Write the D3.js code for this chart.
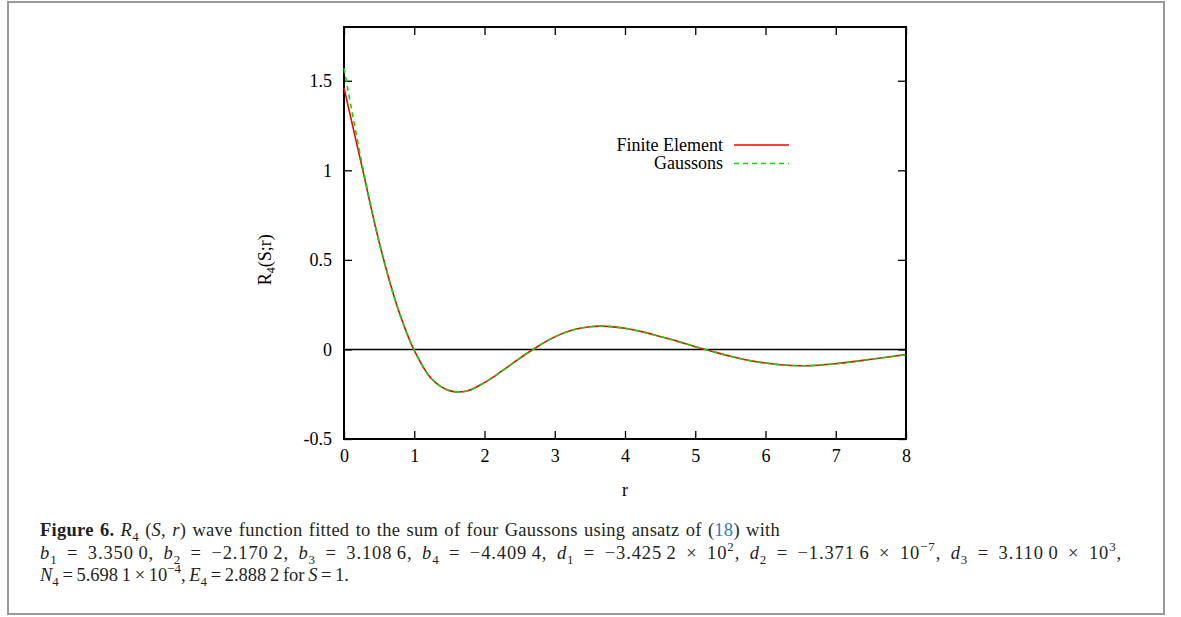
<!DOCTYPE html>
<html>
<head>
<meta charset="utf-8">
<script src="https://cdn.jsdelivr.net/npm/d3@7"></script>
<style>
  body { margin: 0; background: #fff; }
  svg { display: block; }
</style>
</head>
<body>
<div id="chart"></div>
<script>
// values
const rValues = [0, 0.25, 0.5, 0.75, 1, 1.25, 1.5, 1.75, 2, 2.25, 2.5, 2.75, 3, 3.25, 3.5, 3.75,
  4, 4.25, 4.5, 4.75, 5, 5.25, 5.5, 5.75, 6, 6.25, 6.5, 6.75, 7, 7.25, 7.5, 7.75, 8];
const finiteElement = [1.46, 1.03, 0.60, 0.25, -0.005, -0.165, -0.230, -0.232, -0.185, -0.12, -0.05, 0.015,
  0.07, 0.108, 0.127, 0.129, 0.118, 0.098, 0.072, 0.045, 0.015, -0.012, -0.038, -0.060, -0.076,
  -0.087, -0.091, -0.088, -0.080, -0.068, -0.055, -0.042, -0.029];
const gaussons = [1.57, 1.05, 0.60, 0.25, -0.005, -0.165, -0.230, -0.232, -0.185, -0.12, -0.05, 0.015,
  0.07, 0.108, 0.127, 0.129, 0.118, 0.098, 0.072, 0.045, 0.015, -0.012, -0.038, -0.060, -0.076,
  -0.087, -0.091, -0.088, -0.080, -0.068, -0.055, -0.042, -0.029];
const xTicks = [0, 1, 2, 3, 4, 5, 6, 7, 8];
const yTicks = [-0.5, 0, 0.5, 1, 1.5];
const seriesNames = ["Finite Element", "Gaussons"];

const width = 1181, height = 617;
const margin = {top: 27, right: 275, bottom: 178, left: 344};
const serif = "'Liberation Serif', 'DejaVu Serif', serif";

const svg = d3.select("#chart").append("svg")
  .attr("width", width)
  .attr("height", height);

// outer frame around figure + caption
svg.append("rect")
  .attr("x", 8).attr("y", 2)
  .attr("width", 1156).attr("height", 612)
  .attr("fill", "none")
  .attr("stroke", "#9a9a9a")
  .attr("stroke-width", 2);

const x = d3.scaleLinear().domain([0, 8]).range([margin.left, width - margin.right]);
const y = d3.scaleLinear().domain([-0.5, 1.8]).range([height - margin.bottom, margin.top]);

const tickFmt = d => String(d);

const styleAxis = g => {
  g.select(".domain").remove();
  g.selectAll(".tick line").attr("stroke", "#000").attr("stroke-width", 1.3);
  g.selectAll(".tick text").attr("font-family", serif).attr("font-size", 18).attr("fill", "#000");
};

// bottom & left axes, ticks pointing inward like gnuplot
svg.append("g")
  .attr("transform", `translate(0,${y(-0.5)})`)
  .call(d3.axisBottom(x).tickValues(xTicks).tickFormat(tickFmt).tickSize(-8).tickPadding(10))
  .call(styleAxis);

svg.append("g")
  .attr("transform", `translate(${x(0)},0)`)
  .call(d3.axisLeft(y).tickValues(yTicks).tickFormat(tickFmt).tickSize(-8).tickPadding(12))
  .call(styleAxis);

// mirror ticks on top & right
svg.append("g")
  .attr("transform", `translate(0,${y(1.8)})`)
  .call(d3.axisTop(x).tickValues(xTicks).tickFormat("").tickSize(-8))
  .call(styleAxis);

svg.append("g")
  .attr("transform", `translate(${x(8)},0)`)
  .call(d3.axisRight(y).tickValues(yTicks).tickFormat("").tickSize(-8))
  .call(styleAxis);

// zero axis
svg.append("line")
  .attr("x1", x(0)).attr("x2", x(8))
  .attr("y1", y(0)).attr("y2", y(0))
  .attr("stroke", "#000").attr("stroke-width", 1.5);

// plot border
svg.append("rect")
  .attr("x", x(0)).attr("y", y(1.8))
  .attr("width", x(8) - x(0)).attr("height", y(-0.5) - y(1.8))
  .attr("fill", "none").attr("stroke", "#000").attr("stroke-width", 2);

const line = d3.line()
  .curve(d3.curveCatmullRom)
  .x((d, i) => x(rValues[i]))
  .y(d => y(d));

const series = [
  {name: seriesNames[0], values: finiteElement, color: "#ff0000", dash: null},
  {name: seriesNames[1], values: gaussons, color: "#00e000", dash: "5,4"}
];

svg.append("g")
  .attr("fill", "none")
  .attr("stroke-width", 1.6)
  .selectAll("path")
  .data(series)
  .join("path")
    .attr("stroke", d => d.color)
    .attr("stroke-dasharray", d => d.dash)
    .attr("d", d => line(d.values));

// legend
const legend = svg.append("g");
series.forEach((s, i) => {
  const ly = 145 + i * 18.5;
  legend.append("text")
    .attr("x", 723).attr("y", ly + 5.5)
    .attr("text-anchor", "end")
    .attr("font-family", serif).attr("font-size", 18)
    .text(s.name);
  legend.append("line")
    .attr("x1", 734).attr("x2", 789)
    .attr("y1", ly).attr("y2", ly)
    .attr("stroke", s.color).attr("stroke-width", 1.6)
    .attr("stroke-dasharray", s.dash);
});

// axis titles
svg.append("text")
  .attr("x", (x(0) + x(8)) / 2).attr("y", 496)
  .attr("text-anchor", "middle")
  .attr("font-family", serif).attr("font-size", 18)
  .text("r");

const yl = svg.append("text")
  .attr("transform", `translate(271,${y(0.5)}) rotate(-90)`)
  .attr("text-anchor", "middle")
  .attr("font-family", serif).attr("font-size", 18);
yl.append("tspan").text("R");
yl.append("tspan").attr("font-size", 12).attr("dy", 4).text("4");
yl.append("tspan").attr("dy", -4).text("(S;r)");

// caption; digit groups use a thin space
const TS = "\u2009";
const capLines = [
  [
    {t: "Figure 6. ", b: true},
    {t: "R", i: true}, {t: "4", sub: true}, {t: " (", back: true}, {t: "S", i: true}, {t: ", "}, {t: "r", i: true},
    {t: ") wave function fitted to the sum of four Gaussons using ansatz of ("},
    {t: "18", c: "#2b7bb9"}, {t: ") with"}
  ],
  [
    {t: "b", i: true}, {t: "1", sub: true}, {t: " = 3.350" + TS + "0, ", back: true},
    {t: "b", i: true}, {t: "2", sub: true}, {t: " = −2.170" + TS + "2, ", back: true},
    {t: "b", i: true}, {t: "3", sub: true}, {t: " = 3.108" + TS + "6, ", back: true},
    {t: "b", i: true}, {t: "4", sub: true}, {t: " = −4.409" + TS + "4, ", back: true},
    {t: "d", i: true}, {t: "1", sub: true}, {t: " = −3.425" + TS + "2 × 10", back: true}, {t: "2", sup: true},
    {t: ", ", up: true},
    {t: "d", i: true}, {t: "2", sub: true}, {t: " = −1.371" + TS + "6 × 10", back: true}, {t: "−7", sup: true},
    {t: ", ", up: true},
    {t: "d", i: true}, {t: "3", sub: true}, {t: " = 3.110" + TS + "0 × 10", back: true}, {t: "3", sup: true},
    {t: ",", up: true}
  ],
  [
    {t: "N", i: true}, {t: "4", sub: true}, {t: " = 5.698" + TS + "1 × 10", back: true}, {t: "−4", sup: true},
    {t: ", ", up: true},
    {t: "E", i: true}, {t: "4", sub: true}, {t: " = 2.888" + TS + "2 for ", back: true},
    {t: "S", i: true}, {t: " = 1."}
  ]
];
const capY = [536, 559, 581];
const capWidth = [740, 1082, 290];

const fs = 18.5;
const cap = svg.append("g")
  .attr("font-family", serif)
  .attr("font-size", fs)
  .attr("fill", "#231f20");
const subSize = fs * 0.7, dsub = fs * 0.25, dsup = fs * 0.42;

capLines.forEach((parts, li) => {
  const t = cap.append("text").attr("x", 40).attr("y", capY[li]);
  parts.forEach(p => {
    const ts = t.append("tspan").text(p.t);
    if (p.i) ts.attr("font-style", "italic");
    if (p.b) ts.attr("font-weight", "bold");
    if (p.sub) ts.attr("font-size", subSize).attr("dy", dsub);
    if (p.sup) ts.attr("font-size", subSize).attr("dy", -dsup);
    if (p.back) ts.attr("dy", -dsub);
    if (p.up) ts.attr("dy", dsup);
    if (p.c) ts.attr("fill", p.c);
  });
  // justify: share the missing width between letters and word gaps
  const str = parts.map(p => p.t).join("");
  const natural = t.node().getComputedTextLength();
  const spaces = (str.match(/ /g) || []).length;
  const deficit = capWidth[li] - natural;
  if (deficit > 0) {
    t.attr("letter-spacing", 0.5 * deficit / str.length);
    t.attr("word-spacing", 0.5 * deficit / spaces);
  } else {
    t.attr("word-spacing", Math.max(-1, deficit / spaces));
  }
});
</script>
</body>
</html>
